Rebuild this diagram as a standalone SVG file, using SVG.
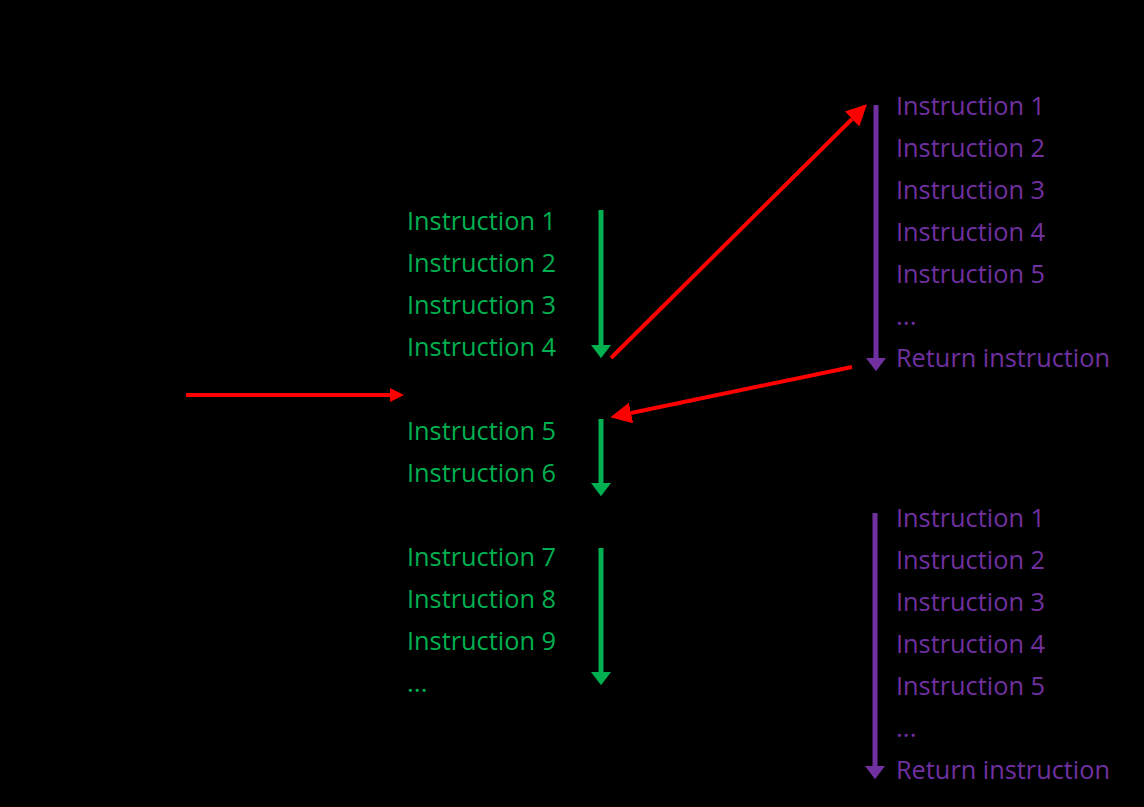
<svg xmlns="http://www.w3.org/2000/svg" width="1144" height="807" viewBox="0 0 1144 807">
<style>
text { font-family: "Open Sans", "Noto Sans", "Liberation Sans", sans-serif; font-size: 26px; }
.g { fill: #00B050; }
.p { fill: #7030A0; }
.gl { stroke: #00B050; stroke-width: 5; fill: none; }
.pl { stroke: #7030A0; stroke-width: 5; fill: none; }
.rl { stroke: #FF0000; stroke-width: 4; fill: none; }
</style>
<defs>
<marker id="ag" markerUnits="userSpaceOnUse" markerWidth="20" markerHeight="20" refX="0" refY="9" orient="auto" viewBox="0 0 12 18">
<path d="M0,0 L12,9 L0,18 z" fill="#00B050"/>
</marker>
<marker id="ap" markerUnits="userSpaceOnUse" markerWidth="20" markerHeight="20" refX="0" refY="9" orient="auto" viewBox="0 0 12 18">
<path d="M0,0 L12,9 L0,18 z" fill="#7030A0"/>
</marker>
<marker id="arS" markerUnits="userSpaceOnUse" markerWidth="14" markerHeight="14" refX="0" refY="6.5" orient="auto" viewBox="0 0 13 13">
<path d="M0,0 L13,6.5 L0,13 z" fill="#FF0000"/>
</marker>
<marker id="arL" markerUnits="userSpaceOnUse" markerWidth="21" markerHeight="21" refX="0" refY="10" orient="auto" viewBox="0 0 20 20">
<path d="M0,0 L20,10 L0,20 z" fill="#FF0000"/>
</marker>
</defs>
<rect width="1144" height="807" fill="#000000"/>

<g id="main-block-1">
<text class="g" x="407" y="230" textLength="149" lengthAdjust="spacingAndGlyphs">Instruction 1</text>
<text class="g" x="407" y="272" textLength="149" lengthAdjust="spacingAndGlyphs">Instruction 2</text>
<text class="g" x="407" y="314" textLength="149" lengthAdjust="spacingAndGlyphs">Instruction 3</text>
<text class="g" x="407" y="356" textLength="149" lengthAdjust="spacingAndGlyphs">Instruction 4</text>
</g>
<g id="main-block-2">
<text class="g" x="407" y="440" textLength="149" lengthAdjust="spacingAndGlyphs">Instruction 5</text>
<text class="g" x="407" y="482" textLength="149" lengthAdjust="spacingAndGlyphs">Instruction 6</text>
</g>
<g id="main-block-3">
<text class="g" x="407" y="566" textLength="149" lengthAdjust="spacingAndGlyphs">Instruction 7</text>
<text class="g" x="407" y="608" textLength="149" lengthAdjust="spacingAndGlyphs">Instruction 8</text>
<text class="g" x="407" y="650" textLength="149" lengthAdjust="spacingAndGlyphs">Instruction 9</text>
<text class="g" x="407" y="692">...</text>
</g>
<g id="subroutine-1">
<text class="p" x="896" y="115" textLength="149" lengthAdjust="spacingAndGlyphs">Instruction 1</text>
<text class="p" x="896" y="157" textLength="149" lengthAdjust="spacingAndGlyphs">Instruction 2</text>
<text class="p" x="896" y="199" textLength="149" lengthAdjust="spacingAndGlyphs">Instruction 3</text>
<text class="p" x="896" y="241" textLength="149" lengthAdjust="spacingAndGlyphs">Instruction 4</text>
<text class="p" x="896" y="283" textLength="149" lengthAdjust="spacingAndGlyphs">Instruction 5</text>
<text class="p" x="896" y="325">...</text>
<text class="p" x="896" y="367" textLength="214" lengthAdjust="spacingAndGlyphs">Return instruction</text>
</g>
<g id="subroutine-2">
<text class="p" x="896" y="527" textLength="149" lengthAdjust="spacingAndGlyphs">Instruction 1</text>
<text class="p" x="896" y="569" textLength="149" lengthAdjust="spacingAndGlyphs">Instruction 2</text>
<text class="p" x="896" y="611" textLength="149" lengthAdjust="spacingAndGlyphs">Instruction 3</text>
<text class="p" x="896" y="653" textLength="149" lengthAdjust="spacingAndGlyphs">Instruction 4</text>
<text class="p" x="896" y="695" textLength="149" lengthAdjust="spacingAndGlyphs">Instruction 5</text>
<text class="p" x="896" y="737">...</text>
<text class="p" x="896" y="779" textLength="214" lengthAdjust="spacingAndGlyphs">Return instruction</text>
</g>

<g id="connectors">
<line class="gl" x1="601" y1="210" x2="601" y2="345" marker-end="url(#ag)"/>
<line class="gl" x1="601" y1="419" x2="601" y2="483" marker-end="url(#ag)"/>
<line class="gl" x1="601" y1="548" x2="601" y2="672" marker-end="url(#ag)"/>
<line class="pl" x1="876" y1="105" x2="876" y2="358" marker-end="url(#ap)"/>
<line class="pl" x1="875" y1="513" x2="875" y2="766" marker-end="url(#ap)"/>
<line class="rl" stroke-width="3" x1="186" y1="395" x2="390" y2="395" marker-end="url(#arS)"/>
<line class="rl" x1="611" y1="358" x2="852" y2="119" marker-end="url(#arL)"/>
<line class="rl" x1="852" y1="367" x2="631" y2="413" marker-end="url(#arL)"/>
</g>
</svg>
